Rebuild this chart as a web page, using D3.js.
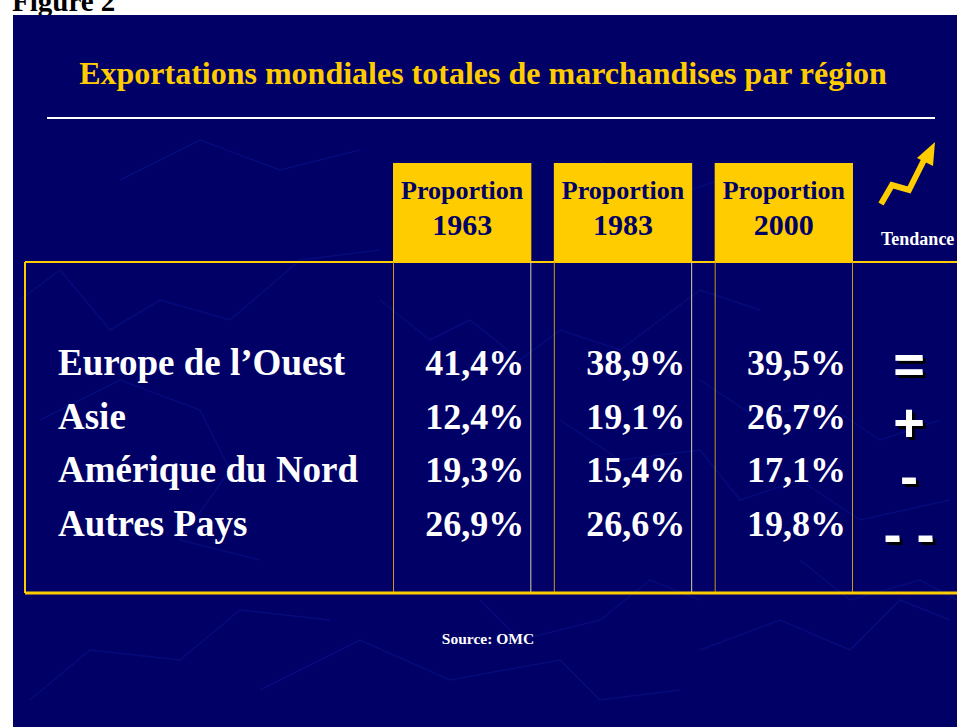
<!DOCTYPE html>
<html>
<head>
<meta charset="utf-8">
<script src="https://cdn.jsdelivr.net/npm/d3@7"></script>
<style>
  html, body { margin: 0; padding: 0; background: #fff; }
  svg { display: block; }
</style>
</head>
<body>
<svg width="957" height="727"></svg>
<script>
// données du tableau
var regions = ["Europe de l\u2019Ouest", "Asie", "Am\u00e9rique du Nord", "Autres Pays"];
var years = ["1963", "1983", "2000"];
var share1963 = [41.4, 12.4, 19.3, 26.9];
var share1983 = [38.9, 19.1, 15.4, 26.6];
var share2000 = [39.5, 26.7, 17.1, 19.8];
var trends = ["=", "+", "-", "- -"];

var shares = [share1963, share1983, share2000];

var svg = d3.select("svg");
var serif = "'Liberation Serif', 'Times New Roman', serif";
var sans = "'Liberation Sans', Arial, sans-serif";
var navy = "#000066";
var gold = "#ffcc00";

// ombre portée des symboles
var f = svg.append("defs").append("filter")
  .attr("id", "ombre")
  .attr("x", "-20%").attr("y", "-20%")
  .attr("width", "150%").attr("height", "150%");
f.append("feDropShadow")
  .attr("dx", 3).attr("dy", 3)
  .attr("stdDeviation", 0.4)
  .attr("flood-color", "#000").attr("flood-opacity", 1);

// petit titre hors du cadre
svg.append("text")
  .attr("x", 12).attr("y", 11)
  .attr("font-family", serif).attr("font-weight", "bold")
  .attr("font-size", 29).attr("fill", "#000")
  .text("Figure 2");

// fond bleu
svg.append("rect")
  .attr("x", 13).attr("y", 15)
  .attr("width", 944).attr("height", 712)
  .attr("fill", navy);

// quelques traits décoratifs (carte en filigrane)
var deco = [
  [[20,300],[60,270],[110,330],[160,300],[230,320],[300,260],[380,250]],
  [[40,420],[120,380],[200,410],[230,470],[180,540],[260,560]],
  [[380,300],[430,340],[470,320],[520,360],[560,330],[620,350],[700,290],[760,310]],
  [[700,380],[760,420],[820,400],[880,440],[940,420]],
  [[560,420],[620,460],[700,450],[740,500],[800,480],[860,520],[950,500]],
  [[260,690],[360,640],[450,680],[560,660],[600,700],[680,690]],
  [[700,650],[780,620],[850,650],[900,600],[950,620]],
  [[30,700],[90,650],[180,660],[240,610],[330,620]],
  [[480,600],[520,640],[600,620],[650,580],[700,600]],
  [[800,560],[850,600],[920,580],[957,600]],
  [[120,180],[200,140],[280,170],[360,150]],
  [[600,160],[660,200],[720,180]]
];
svg.append("g")
  .selectAll("path")
  .data(deco)
  .join("path")
    .attr("d", d3.line())
    .attr("fill", "none")
    .attr("stroke", "#0b1690")
    .attr("stroke-opacity", 0.5)
    .attr("stroke-width", 1.5);

// titre
svg.append("text")
  .attr("x", 483).attr("y", 84)
  .attr("text-anchor", "middle")
  .attr("font-family", serif).attr("font-weight", "bold")
  .attr("font-size", 32).attr("fill", gold)
  .text("Exportations mondiales totales de marchandises par r\u00e9gion");

svg.append("line")
  .attr("x1", 47).attr("x2", 935)
  .attr("y1", 118).attr("y2", 118)
  .attr("stroke", "#fff").attr("stroke-width", 2);

// échelles
var x = d3.scaleBand().domain(years).range([393, 853]).paddingInner(0.14);
var y = d3.scalePoint().domain(regions).range([375, 536]);
var yTrend = d3.scalePoint().domain(regions).range([364, 538]);

var tabTop = 262, tabBottom = 593;

// en-têtes jaunes
var head = svg.append("g").selectAll("g")
  .data(years)
  .join("g");

head.append("rect")
  .attr("x", d => x(d))
  .attr("y", 163)
  .attr("width", x.bandwidth())
  .attr("height", tabTop - 163)
  .attr("fill", gold);

head.append("text")
  .attr("x", d => x(d) + x.bandwidth() / 2)
  .attr("y", 199)
  .attr("text-anchor", "middle")
  .attr("font-family", serif).attr("font-weight", "bold")
  .attr("font-size", 26).attr("fill", navy)
  .text("Proportion");

head.append("text")
  .attr("x", d => x(d) + x.bandwidth() / 2)
  .attr("y", 235)
  .attr("text-anchor", "middle")
  .attr("font-family", serif).attr("font-weight", "bold")
  .attr("font-size", 30).attr("fill", navy)
  .text(d => d);

// cadre du tableau
svg.append("line")
  .attr("x1", 25).attr("x2", 957).attr("y1", tabTop).attr("y2", tabTop)
  .attr("stroke", gold).attr("stroke-width", 2);
svg.append("line")
  .attr("x1", 25).attr("x2", 25).attr("y1", tabTop).attr("y2", tabBottom)
  .attr("stroke", gold).attr("stroke-width", 2);
svg.append("line")
  .attr("x1", 25).attr("x2", 957).attr("y1", tabBottom).attr("y2", tabBottom)
  .attr("stroke", gold).attr("stroke-width", 3);

var edges = [];
years.forEach(function(d, i) {
  edges.push({ x: x(d) + 0.5, c: "#c9981c" });
  edges.push({ x: x(d) + x.bandwidth() - 0.5, c: i === 2 ? "#c9981c" : "#d9cfa8" });
});
svg.append("g").selectAll("line")
  .data(edges)
  .join("line")
    .attr("x1", d => d.x).attr("x2", d => d.x)
    .attr("y1", tabTop).attr("y2", tabBottom - 1)
    .attr("stroke", d => d.c)
    .attr("stroke-width", 1);

// libellés des régions
svg.append("g").selectAll("text")
  .data(regions)
  .join("text")
    .attr("x", 58)
    .attr("y", d => y(d))
    .attr("font-family", serif).attr("font-weight", "bold")
    .attr("font-size", 37).attr("fill", "#fff")
    .text(d => d);

// valeurs
var fmt = function(v) { return d3.format(".1f")(v).replace(".", ",") + "%"; };
years.forEach(function(yr, j) {
  svg.append("g").selectAll("text")
    .data(shares[j])
    .join("text")
      .attr("x", x(yr) + x.bandwidth() - 7)
      .attr("y", (d, i) => y(regions[i]))
      .attr("text-anchor", "end")
      .attr("font-family", serif).attr("font-weight", "bold")
      .attr("font-size", 36).attr("fill", "#fff")
      .text(fmt);
});

// tendance
svg.append("g").selectAll("text")
  .data(trends)
  .join("text")
    .attr("x", 909)
    .attr("y", (d, i) => yTrend(regions[i]) + (d.indexOf("-") >= 0 ? 14.5 : 19))
    .attr("text-anchor", "middle")
    .attr("font-family", sans).attr("font-weight", "bold")
    .attr("font-size", 54).attr("fill", "#fff")
    .attr("filter", "url(#ombre)")
    .text(d => d);

// flèche
svg.append("path")
  .attr("d", d3.line()([[881, 204], [892, 185], [909, 190], [924, 160]]))
  .attr("fill", "none")
  .attr("stroke", gold).attr("stroke-width", 6)
  .attr("stroke-linejoin", "miter");
svg.append("path")
  .attr("d", d3.line()([[935, 142], [917, 158], [933, 166]]) + "Z")
  .attr("fill", gold);

svg.append("text")
  .attr("x", 881).attr("y", 245)
  .attr("font-family", serif).attr("font-weight", "bold")
  .attr("font-size", 18).attr("fill", "#fff")
  .text("Tendance");

// source
svg.append("text")
  .attr("x", 488).attr("y", 644)
  .attr("text-anchor", "middle")
  .attr("font-family", serif).attr("font-weight", "bold")
  .attr("font-size", 15.5).attr("fill", "#fff")
  .text("Source: OMC");
</script>
</body>
</html>
